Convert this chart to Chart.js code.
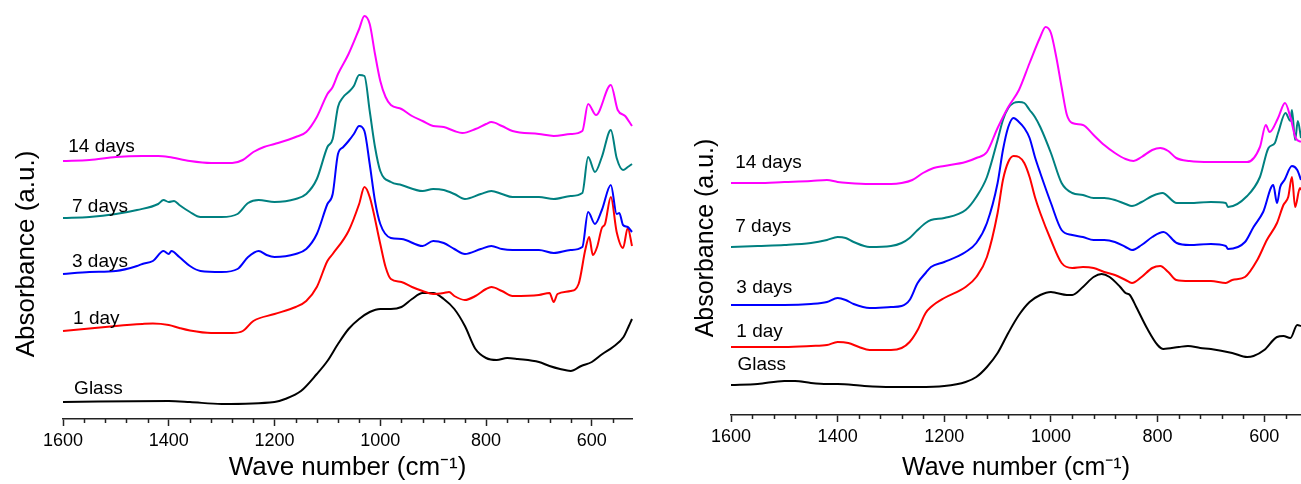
<!DOCTYPE html>
<html>
<head>
<meta charset="utf-8">
<script src="https://cdn.jsdelivr.net/npm/chart.js@4.4.1/dist/chart.umd.min.js"></script>
<style>
  body { margin: 0; background: #fff; }
  #wrap { position: relative; width: 1301px; height: 484px; overflow: hidden; }
  canvas { position: absolute; top: 0; }
</style>
</head>
<body>
<div id="wrap">
  <canvas id="left" width="650" height="484" style="left:0"></canvas>
  <canvas id="right" width="651" height="484" style="left:650px"></canvas>
</div>
<script>
// FTIR spectra, [wave number cm-1, absorbance a.u. (offset)]
// ---- left panel ----
const leftGlass = [[1600,0.17],[1400,0.18],[1360,0.17],[1300,0.15],[1200,0.17],[1180,0.20],[1150,0.28],[1120,0.45],[1100,0.58],[1080,0.75],[1060,0.90],[1040,1.00],[1020,1.07],[1000,1.10],[980,1.10],[960,1.12],[940,1.20],[920,1.26],[900,1.26],[880,1.20],[860,1.10],[840,0.93],[820,0.70],[800,0.61],[780,0.59],[760,0.61],[740,0.60],[700,0.57],[680,0.53],[660,0.50],[640,0.48],[620,0.53],[600,0.57],[580,0.65],[560,0.72],[540,0.82],[530,0.93],[524,1.00]];
const left1Day = [[1600,0.88],[1560,0.90],[1500,0.93],[1450,0.95],[1430,0.955],[1400,0.94],[1380,0.91],[1360,0.885],[1320,0.86],[1280,0.86],[1260,0.88],[1240,0.98],[1200,1.05],[1160,1.12],[1140,1.18],[1120,1.32],[1100,1.58],[1090,1.65],[1060,1.88],[1040,2.15],[1030,2.32],[1020,2.22],[1000,1.75],[990,1.52],[980,1.40],[960,1.37],[940,1.32],[920,1.28],[900,1.25],[880,1.26],[870,1.27],[860,1.23],[840,1.19],[820,1.23],[800,1.30],[790,1.32],[770,1.28],[750,1.23],[700,1.24],[680,1.26],[672,1.17],[665,1.25],[640,1.28],[625,1.35],[612,1.70],[605,1.82],[598,1.64],[590,1.72],[581,1.91],[575,1.95],[564,2.22],[553,1.87],[541,1.71],[532,1.91],[524,1.73]];
const left3Days = [[1600,1.45],[1550,1.47],[1500,1.48],[1460,1.53],[1450,1.55],[1430,1.58],[1410,1.68],[1400,1.65],[1395,1.68],[1380,1.62],[1360,1.53],[1340,1.48],[1300,1.47],[1270,1.50],[1250,1.62],[1230,1.68],[1215,1.64],[1200,1.62],[1160,1.65],[1140,1.70],[1120,1.85],[1100,2.15],[1090,2.25],[1080,2.65],[1070,2.72],[1060,2.78],[1050,2.85],[1040,2.93],[1030,2.88],[1020,2.55],[1010,2.18],[1000,1.95],[980,1.81],[960,1.80],[920,1.73],[900,1.78],[880,1.76],[860,1.70],[840,1.65],[810,1.70],[790,1.73],[770,1.70],[750,1.69],[700,1.69],[672,1.66],[640,1.69],[618,1.72],[607,2.07],[594,1.95],[581,2.09],[564,2.34],[553,2.05],[548,2.06],[541,1.94],[532,1.92],[524,1.87]];
const left7Days = [[1600,2.01],[1550,2.02],[1500,2.05],[1460,2.09],[1420,2.15],[1410,2.19],[1400,2.17],[1390,2.18],[1380,2.14],[1360,2.07],[1340,2.02],[1300,2.02],[1270,2.05],[1250,2.16],[1230,2.19],[1200,2.17],[1160,2.20],[1140,2.25],[1120,2.40],[1100,2.72],[1090,2.80],[1080,3.12],[1070,3.22],[1060,3.27],[1050,3.33],[1040,3.44],[1030,3.43],[1020,3.08],[1010,2.72],[1000,2.48],[980,2.37],[960,2.34],[920,2.28],[900,2.30],[880,2.29],[860,2.25],[840,2.20],[810,2.25],[790,2.28],[770,2.25],[750,2.22],[700,2.22],[672,2.20],[640,2.23],[618,2.26],[607,2.62],[594,2.47],[581,2.62],[564,2.89],[553,2.61],[541,2.49],[532,2.52],[524,2.55]];
const left14Days = [[1600,2.58],[1550,2.59],[1500,2.62],[1450,2.63],[1420,2.63],[1400,2.62],[1360,2.58],[1320,2.56],[1280,2.56],[1260,2.59],[1240,2.67],[1220,2.72],[1200,2.75],[1160,2.82],[1140,2.87],[1120,3.02],[1100,3.25],[1090,3.32],[1080,3.45],[1060,3.65],[1040,3.90],[1030,4.03],[1020,3.95],[1010,3.65],[1000,3.38],[990,3.22],[980,3.14],[960,3.10],[940,3.03],[920,2.98],[900,2.93],[880,2.92],[860,2.88],[845,2.86],[820,2.90],[800,2.95],[790,2.97],[770,2.93],[750,2.88],[700,2.85],[672,2.83],[640,2.85],[618,2.88],[607,3.15],[592,3.04],[564,3.34],[551,3.09],[537,3.03],[524,2.93]];
const leftLabelWn = [1590, 1583, 1583, 1581, 1579];
const leftLabelAbs = [2.72, 2.12, 1.57, 1.00, 0.30];

// ---- right panel ----
const rightGlass = [[1600,0.30],[1550,0.31],[1500,0.34],[1480,0.34],[1450,0.32],[1420,0.31],[1400,0.31],[1350,0.29],[1300,0.28],[1250,0.28],[1200,0.29],[1160,0.33],[1140,0.38],[1120,0.48],[1100,0.62],[1080,0.82],[1060,1.00],[1040,1.13],[1020,1.20],[1000,1.23],[990,1.22],[970,1.20],[960,1.20],[940,1.28],[920,1.38],[905,1.41],[890,1.38],[870,1.28],[860,1.22],[852,1.20],[840,1.08],[820,0.87],[800,0.70],[789,0.66],[760,0.68],[743,0.69],[720,0.67],[700,0.66],[660,0.62],[632,0.58],[620,0.59],[600,0.65],[576,0.78],[564,0.79],[551,0.77],[538,0.90],[531,0.89]];
const right1Day = [[1600,0.68],[1500,0.68],[1450,0.69],[1420,0.70],[1400,0.73],[1380,0.72],[1360,0.68],[1340,0.65],[1300,0.65],[1280,0.67],[1265,0.73],[1250,0.85],[1235,1.02],[1225,1.08],[1200,1.17],[1160,1.28],[1140,1.38],[1120,1.58],[1100,2.02],[1090,2.35],[1080,2.53],[1070,2.59],[1060,2.58],[1050,2.52],[1040,2.38],[1030,2.18],[1020,2.02],[1000,1.75],[980,1.52],[960,1.47],[940,1.48],[920,1.47],[900,1.43],[880,1.40],[860,1.35],[848,1.32],[830,1.38],[810,1.47],[795,1.49],[780,1.43],[765,1.35],[740,1.34],[700,1.34],[672,1.32],[660,1.35],[636,1.38],[613,1.55],[595,1.75],[576,1.92],[564,2.10],[555,2.18],[548,2.38],[542,2.08],[533,2.27],[531,2.25]];
const right3Days = [[1600,1.10],[1550,1.10],[1500,1.10],[1450,1.11],[1420,1.13],[1400,1.17],[1385,1.15],[1370,1.11],[1340,1.07],[1300,1.08],[1280,1.09],[1265,1.15],[1250,1.32],[1235,1.42],[1225,1.48],[1200,1.53],[1160,1.63],[1140,1.72],[1120,1.92],[1100,2.32],[1090,2.65],[1080,2.88],[1070,2.97],[1060,2.93],[1050,2.87],[1040,2.77],[1030,2.58],[1020,2.42],[1000,2.12],[980,1.85],[960,1.80],[940,1.78],[920,1.75],[900,1.75],[880,1.73],[860,1.68],[848,1.65],[830,1.70],[810,1.78],[789,1.83],[764,1.72],[740,1.70],[700,1.71],[672,1.69],[668,1.66],[636,1.73],[620,1.88],[602,2.03],[583,2.30],[576,2.12],[570,2.28],[562,2.35],[548,2.49],[538,2.45],[531,2.35]];
const right7Days = [[1600,1.68],[1550,1.69],[1500,1.70],[1450,1.72],[1420,1.75],[1400,1.78],[1385,1.77],[1370,1.73],[1340,1.68],[1300,1.69],[1280,1.72],[1265,1.77],[1250,1.85],[1235,1.92],[1225,1.95],[1200,1.97],[1160,2.05],[1140,2.18],[1120,2.38],[1100,2.75],[1090,2.95],[1080,3.07],[1070,3.12],[1060,3.13],[1050,3.12],[1040,3.05],[1030,2.98],[1020,2.88],[1000,2.62],[980,2.32],[960,2.22],[940,2.20],[920,2.17],[900,2.17],[880,2.15],[860,2.11],[848,2.09],[830,2.13],[810,2.19],[791,2.22],[764,2.12],[740,2.12],[700,2.13],[672,2.12],[668,2.08],[632,2.19],[608,2.38],[592,2.67],[580,2.72],[574,2.82],[560,3.02],[551,2.94],[548,3.05],[542,2.75],[537,2.94],[531,2.77]];
const right14Days = [[1600,2.32],[1550,2.32],[1500,2.33],[1450,2.34],[1420,2.35],[1400,2.33],[1380,2.32],[1340,2.31],[1300,2.31],[1280,2.32],[1260,2.35],[1240,2.42],[1220,2.47],[1200,2.49],[1160,2.53],[1140,2.57],[1120,2.63],[1100,2.87],[1080,3.08],[1060,3.25],[1040,3.52],[1020,3.78],[1010,3.88],[1000,3.82],[990,3.58],[980,3.28],[970,3.00],[960,2.92],[940,2.90],[920,2.80],[900,2.70],[880,2.62],[860,2.56],[845,2.54],[830,2.58],[810,2.65],[795,2.67],[780,2.64],[765,2.57],[740,2.54],[700,2.53],[660,2.53],[632,2.53],[608,2.68],[597,2.90],[590,2.83],[574,2.97],[561,3.12],[551,2.98],[541,2.77],[531,2.73]];
const rightLabelWn = [1592, 1592, 1590, 1590, 1588];
const rightLabelAbs = [2.52, 1.88, 1.27, 0.83, 0.50];

// shared
const seriesNames = ['14 days', '7 days', '3 days', '1 day', 'Glass'];
const seriesColors = ['#ff00ff', '#008080', '#0000ff', '#ff0000', '#000000'];
const majorTicks = [1600, 1400, 1200, 1000, 800, 600];
const minorTicks = [1560, 1520, 1480, 1440, 1360, 1320, 1280, 1240, 1160, 1120, 1080, 1040,
  960, 920, 880, 840, 760, 720, 680, 640, 560];

Chart.defaults.font.family = '"Liberation Sans", Arial, sans-serif';
Chart.defaults.color = '#000';

const toXY = arr => arr.map(p => ({ x: p[0], y: p[1] }));

// short minor ticks below the axis + curve labels
const extrasPlugin = {
  id: 'extras',
  afterDraw(chart, args, opts) {
    const { ctx } = chart;
    const xs = chart.scales.x;
    const ys = chart.scales.y;
    ctx.save();
    ctx.strokeStyle = '#222';
    ctx.lineWidth = 1.5;
    minorTicks.forEach(v => {
      if (v < xs.min || v > xs.max) return;
      const px = Math.round(xs.getPixelForValue(v)) + 0.5;
      ctx.beginPath();
      ctx.moveTo(px, xs.top);
      ctx.lineTo(px, xs.top + 4);
      ctx.stroke();
    });
    ctx.fillStyle = '#000';
    ctx.font = '19px "Liberation Sans", Arial, sans-serif';
    ctx.textAlign = 'left';
    ctx.textBaseline = 'middle';
    seriesNames.forEach((name, i) => {
      ctx.fillText(name, xs.getPixelForValue(opts.wn[i]), ys.getPixelForValue(opts.abs[i]));
    });
    ctx.restore();
  }
};

function makeChart(id, series, cfg) {
  return new Chart(document.getElementById(id), {
    type: 'line',
    data: {
      datasets: series.map((s, i) => ({
        label: seriesNames[i],
        data: toXY(s),
        borderColor: seriesColors[i],
        borderWidth: 2,
        pointRadius: 0,
        cubicInterpolationMode: 'monotone',
        clip: false
      }))
    },
    options: {
      responsive: false,
      animation: false,
      devicePixelRatio: 1,
      layout: { padding: { left: 0, right: cfg.padRight, top: cfg.padTop, bottom: 0 } },
      plugins: {
        legend: { display: false },
        tooltip: { enabled: false },
        extras: { wn: cfg.labelWn, abs: cfg.labelAbs }
      },
      scales: {
        x: {
          type: 'linear',
          reverse: true,
          min: cfg.xMin,
          max: 1600,
          afterBuildTicks: s => { s.ticks = majorTicks.map(v => ({ value: v })); },
          afterFit: s => { s.height = cfg.xHeight; },
          ticks: { font: { size: 18 }, padding: 4, maxRotation: 0, autoSkip: false,
            callback: v => String(v) },
          grid: { drawOnChartArea: false, drawTicks: true, tickLength: 7,
            tickColor: '#222', tickWidth: 1.5 },
          border: { display: true, color: '#222', width: 1.5 },
          title: { display: true, text: 'Wave number (cm\u207B\u00B9)',
            font: { size: cfg.titleSize }, padding: { top: 0, bottom: 1 } }
        },
        y: {
          min: 0,
          max: cfg.yMax,
          afterFit: s => { s.width = cfg.yWidth; },
          ticks: { display: false },
          grid: { display: false },
          border: { display: false },
          title: { display: true, text: 'Absorbance (a.u.)',
            font: { size: cfg.titleSize }, padding: { top: cfg.yTitlePad, bottom: 0 } }
        }
      }
    },
    plugins: [extrasPlugin]
  });
}

makeChart('left', [left14Days, left7Days, left3Days, left1Day, leftGlass], {
  xMin: 524, padRight: 18, padTop: 89, xHeight: 65, yWidth: 63, yMax: 3.30,
  titleSize: 26, yTitlePad: 11, labelWn: leftLabelWn, labelAbs: leftLabelAbs
});

makeChart('right', [right14Days, right7Days, right3Days, right1Day, rightGlass], {
  xMin: 531, padRight: 0, padTop: 61, xHeight: 69, yWidth: 81, yMax: 3.54,
  titleSize: 25, yTitlePad: 41, labelWn: rightLabelWn, labelAbs: rightLabelAbs
});
</script>
</body>
</html>
